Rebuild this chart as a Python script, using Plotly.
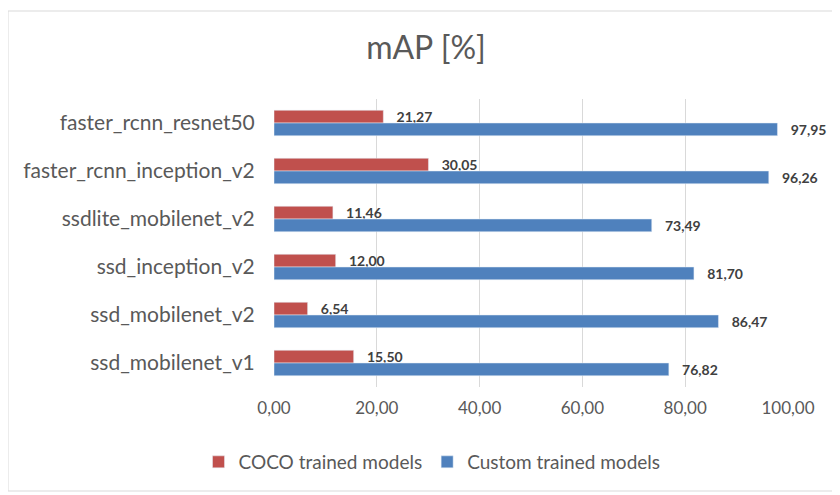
import plotly.graph_objects as go

categories = ["faster_rcnn_resnet50", "faster_rcnn_inception_v2", "ssdlite_mobilenet_v2",
              "ssd_inception_v2", "ssd_mobilenet_v2", "ssd_mobilenet_v1"]
coco_values = [21.27, 30.05, 11.46, 12.00, 6.54, 15.50]
custom_values = [97.95, 96.26, 73.49, 81.70, 86.47, 76.82]
tick_values = [0, 20, 40, 60, 80, 100]

W, H = 840, 495
OFF = 8  # page body margin
# plot area in page pixels: x 274..788, y 99..387
L = 274 - OFF
R = W - (788 - OFF)
T = 99 - OFF
B = H - (387 - OFF)
pw, ph = W - L - R, H - T - B

def px_x(px):
    return (px - OFF - L) / pw

def px_y(py):
    return (H - B - (py - OFF)) / ph

FONT = "Lato, Open Sans, sans-serif"
label_font = dict(family=FONT, size=14, color="#404040")
pad = "\u00a0\u00a0\u00a0"

fig = go.Figure()
fig.add_trace(go.Bar(
    y=categories, x=coco_values, orientation="h", name="COCO trained models",
    marker=dict(color="#C0504D"),
    texttemplate="<b>" + pad + "%{x:.2f}</b>", textposition="outside",
    textfont=label_font, cliponaxis=False, constraintext="none",
))
fig.add_trace(go.Bar(
    y=categories, x=custom_values, orientation="h", name="Custom trained models",
    marker=dict(color="#4F81BD"),
    texttemplate="<b>" + pad + "%{x:.2f}</b>", textposition="outside",
    textfont=label_font, cliponaxis=False, constraintext="none",
))

fig.update_layout(
    width=W, height=H,
    margin=dict(l=L, r=R, t=T, b=B, autoexpand=False),
    paper_bgcolor="white", plot_bgcolor="white",
    separators=",.",
    barmode="group", bargap=0.47, bargroupgap=0,
    title=dict(text="mAP [%]", x=px_x(426), xref="paper", xanchor="center",
               y=1 - (48 - OFF) / H, yanchor="middle",
               font=dict(family=FONT, size=32, color="#595959")),
    font=dict(family=FONT, color="#595959"),
    xaxis=dict(range=[0, 100], tickvals=tick_values, tickformat=".2f",
               showgrid=True, gridcolor="#D9D9D9", gridwidth=1, zeroline=False,
               showline=False, ticks="outside", ticklen=6, tickcolor="rgba(0,0,0,0)",
               tickfont=dict(family=FONT, size=17, color="#595959")),
    yaxis=dict(categoryorder="array", categoryarray=categories, autorange="reversed",
               showgrid=False, zeroline=False, showline=False, ticks="outside",
               ticklen=14, tickcolor="rgba(0,0,0,0)",
               tickfont=dict(family=FONT, size=21, color="#595959")),
    legend=dict(orientation="h", x=px_x(432), xanchor="center",
                y=px_y(462), yanchor="middle",
                font=dict(family=FONT, size=19, color="#595959"),
                traceorder="normal"),
    showlegend=True,
    shapes=[dict(type="rect", xref="paper", yref="paper",
                 x0=px_x(8), x1=px_x(838),
                 y0=px_y(491), y1=px_y(11),
                 line=dict(color="#D9D9D9", width=1), fillcolor="rgba(0,0,0,0)",
                 layer="below")],
)

fig.write_html("out.html")
